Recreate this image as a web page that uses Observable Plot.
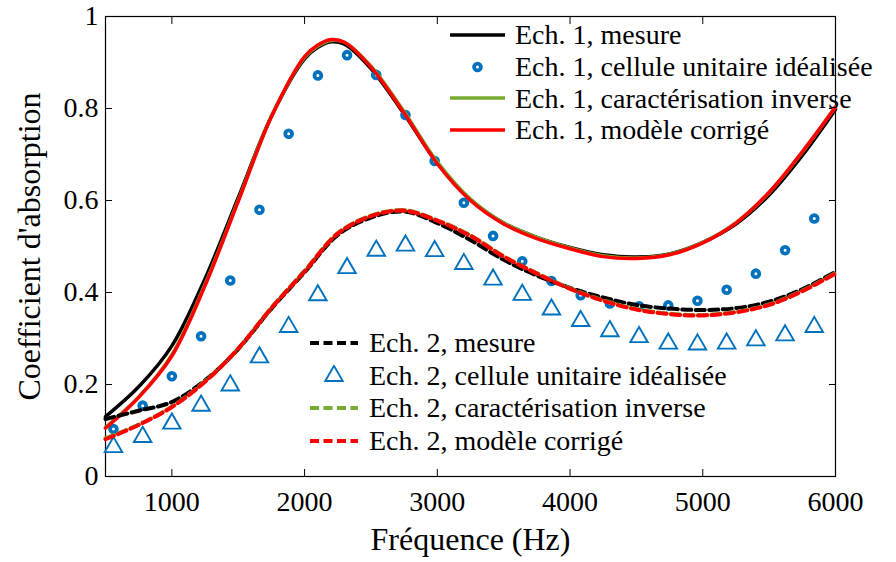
<!DOCTYPE html>
<html><head><meta charset="utf-8">
<script src="https://cdn.jsdelivr.net/npm/d3@7"></script>
<script src="https://cdn.jsdelivr.net/npm/@observablehq/plot@0.6"></script>
<style>
body{margin:0;background:#fff;}
#wrap{position:relative;width:896px;height:562px;font-family:"Liberation Serif","Tinos","Times New Roman","DejaVu Serif",serif;}
.leg{position:absolute;}
.row{display:flex;align-items:center;white-space:nowrap;font-size:28px;color:#000;}
.row svg{flex:none;display:block;}
</style></head>
<body><div id="wrap"></div>
<script>
// ---- data ----
const xTicks = [1000, 2000, 3000, 4000, 5000, 6000];
const yTicks = [0, 0.2, 0.4, 0.6, 0.8, 1];

const freq1 = [500,750,1000,1250,1500,1750,2000,2100,2200,2300,2500,2750,3000,3250,3500,3750,4000,4250,4500,4750,5000,5250,5500,5750,6000];
const ech1Mesure   = [0.130,0.195,0.284,0.430,0.606,0.783,0.908,0.933,0.945,0.940,0.887,0.788,0.681,0.602,0.551,0.520,0.498,0.482,0.477,0.484,0.509,0.549,0.612,0.698,0.798];
const ech1Inverse  = [0.107,0.173,0.265,0.418,0.600,0.783,0.911,0.936,0.948,0.944,0.892,0.793,0.684,0.603,0.551,0.520,0.497,0.480,0.475,0.483,0.509,0.552,0.617,0.705,0.804];
const ech1Corrige  = [0.105,0.172,0.262,0.415,0.598,0.782,0.913,0.938,0.950,0.944,0.890,0.790,0.680,0.600,0.549,0.517,0.495,0.478,0.474,0.482,0.508,0.551,0.618,0.706,0.803];

const freq2 = [500,750,1000,1250,1500,1750,2000,2250,2500,2750,3000,3250,3500,3750,4000,4250,4500,4750,5000,5250,5500,5750,6000];
const ech2Mesure   = [0.125,0.143,0.162,0.209,0.277,0.365,0.444,0.525,0.563,0.576,0.551,0.514,0.471,0.437,0.410,0.389,0.373,0.365,0.362,0.366,0.380,0.407,0.445];
const ech2Inverse  = [0.083,0.113,0.152,0.207,0.278,0.367,0.447,0.529,0.567,0.579,0.557,0.524,0.479,0.442,0.409,0.383,0.364,0.354,0.351,0.358,0.374,0.404,0.442];
const ech2Corrige  = [0.081,0.112,0.151,0.206,0.278,0.366,0.446,0.528,0.566,0.578,0.556,0.523,0.478,0.441,0.408,0.382,0.363,0.353,0.350,0.357,0.373,0.403,0.441];

const freqCell = [560,780,1000,1220,1440,1660,1880,2100,2320,2540,2760,2980,3200,3420,3640,3860,4080,4300,4520,4740,4960,5180,5400,5620,5840];
const ech1Cellule = [0.103,0.154,0.218,0.305,0.426,0.580,0.745,0.872,0.916,0.873,0.786,0.686,0.595,0.523,0.468,0.425,0.394,0.376,0.370,0.372,0.382,0.406,0.441,0.492,0.561];
const ech2Cellule = [0.064,0.086,0.115,0.154,0.198,0.259,0.325,0.394,0.453,0.491,0.502,0.490,0.462,0.428,0.395,0.363,0.338,0.316,0.303,0.289,0.287,0.289,0.296,0.307,0.325];

const legend1Labels = ["Ech. 1, mesure","Ech. 1, cellule unitaire idéalisée","Ech. 1, caractérisation inverse","Ech. 1, modèle corrigé"];
const legend2Labels = ["Ech. 2, mesure","Ech. 2, cellule unitaire idéalisée","Ech. 2, caractérisation inverse","Ech. 2, modèle corrigé"];
const xLabel = "Fréquence (Hz)";
const yLabel = "Coefficient d'absorption";

// ---- styles ----
const FONT = "'Liberation Serif', Tinos, 'Times New Roman', 'DejaVu Serif', serif";
const BLUE = "#0072BD", GREEN = "#77AC30", RED = "#FF0000", BLACK = "#000000";
const DASH = "9,4.5";

const pts = (xs, ys) => xs.map((x, i) => ({x, y: ys[i]}));
const lineOpts = (stroke, dash) => ({x: "x", y: "y", stroke, strokeWidth: dash ? 4 : 3.5, strokeDasharray: dash ? DASH : null, curve: "catmull-rom"});

const chart = Plot.plot({
  width: 896, height: 562,
  marginLeft: 105, marginRight: 61, marginTop: 16, marginBottom: 86,
  style: {fontFamily: FONT, fontSize: "28px", color: "black", background: "white", overflow: "visible"},
  x: {domain: [500, 6000]},
  y: {domain: [0, 1]},
  marks: [
    Plot.axisX(xTicks, {anchor: "bottom", tickSize: 0, tickPadding: 15, fontSize: 28, tickFormat: d => String(d), label: null}),
    Plot.axisX(xTicks, {anchor: "bottom", tickSize: -7, tickFormat: () => "", label: null}),
    Plot.axisX(xTicks, {anchor: "top", tickSize: -7, tickFormat: () => "", label: null}),
    Plot.axisY(yTicks, {anchor: "left", tickSize: 0, tickPadding: 7, fontSize: 28, tickFormat: d => String(d), label: null}),
    Plot.axisY(yTicks, {anchor: "left", tickSize: -7, tickFormat: () => "", label: null}),
    Plot.axisY(yTicks, {anchor: "right", tickSize: -7, tickFormat: () => "", label: null}),
    Plot.frame({stroke: "black", strokeWidth: 1.2}),
    Plot.line(pts(freq1, ech1Mesure), lineOpts(BLACK, false)),
    Plot.dot(pts(freqCell, ech1Cellule), {x: "x", y: "y", r: 3.4, stroke: BLUE, strokeWidth: 3.8, fill: "white"}),
    Plot.line(pts(freq1, ech1Inverse), lineOpts(GREEN, false)),
    Plot.line(pts(freq1, ech1Corrige), lineOpts(RED, false)),
    Plot.line(pts(freq2, ech2Mesure), lineOpts(BLACK, true)),
    Plot.dot(pts(freqCell, ech2Cellule), {x: "x", y: "y", symbol: "triangle", r: 6.5, stroke: BLUE, strokeWidth: 1.9, fill: "none"}),
    Plot.line(pts(freq2, ech2Inverse), lineOpts(GREEN, true)),
    Plot.line(pts(freq2, ech2Corrige), lineOpts(RED, true)),
    Plot.text([xLabel], {text: d => d, frameAnchor: "bottom", dy: 73, fontSize: 32}),
    Plot.text([yLabel], {text: d => d, frameAnchor: "left", textAnchor: "middle", dx: -76, rotate: -90, fontSize: 32})
  ]
});

const wrap = document.getElementById("wrap");
wrap.appendChild(chart);

// ---- legends (HTML overlay) ----
function sample(kind, w, lineLen) {
  const ns = "http://www.w3.org/2000/svg";
  const s = document.createElementNS(ns, "svg");
  s.setAttribute("width", w); s.setAttribute("height", 22);
  const cx = lineLen / 2;
  let el;
  if (kind.type === "line") {
    el = document.createElementNS(ns, "line");
    el.setAttribute("x1", 0); el.setAttribute("x2", lineLen);
    el.setAttribute("y1", 11); el.setAttribute("y2", 11);
    el.setAttribute("stroke", kind.color);
    el.setAttribute("stroke-width", kind.dash ? 4 : 3.5);
    if (kind.dash) el.setAttribute("stroke-dasharray", DASH);
  } else if (kind.type === "circle") {
    el = document.createElementNS(ns, "circle");
    el.setAttribute("cx", cx); el.setAttribute("cy", 11); el.setAttribute("r", 3.4);
    el.setAttribute("fill", "white"); el.setAttribute("stroke", BLUE); el.setAttribute("stroke-width", 3.8);
  } else {
    el = document.createElementNS(ns, "path");
    el.setAttribute("d", d3.symbol(d3.symbolTriangle, Math.PI * 6.5 * 6.5)());
    el.setAttribute("transform", `translate(${cx},11)`);
    el.setAttribute("fill", "none"); el.setAttribute("stroke", BLUE); el.setAttribute("stroke-width", 1.9);
  }
  s.appendChild(el);
  return s;
}
function legend(labels, kinds, left, top, rowH, sw, lineLen) {
  const div = document.createElement("div");
  div.className = "leg";
  div.style.left = left + "px"; div.style.top = top + "px";
  labels.forEach((lab, i) => {
    const r = document.createElement("div");
    r.className = "row"; r.style.height = rowH + "px"; r.style.lineHeight = rowH + "px";
    r.appendChild(sample(kinds[i], sw, lineLen));
    const t = document.createElement("span"); t.textContent = lab;
    r.appendChild(t);
    div.appendChild(r);
  });
  wrap.appendChild(div);
}
legend(legend1Labels,
  [{type: "line", color: BLACK}, {type: "circle"}, {type: "line", color: GREEN}, {type: "line", color: RED}],
  450, 35 - 15.85, 31.7, 65, 55);
legend(legend2Labels,
  [{type: "line", color: BLACK, dash: true}, {type: "triangle"}, {type: "line", color: GREEN, dash: true}, {type: "line", color: RED, dash: true}],
  310, 343.3 - 16.3, 32.6, 59, 48);
</script>
</body></html>
